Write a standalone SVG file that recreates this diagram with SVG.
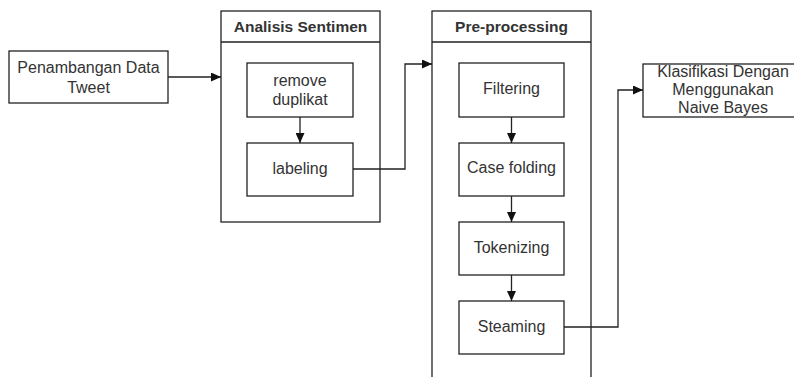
<svg xmlns="http://www.w3.org/2000/svg" width="794" height="377" viewBox="0 0 794 377">
<style>
.box{fill:#fff;stroke:#222;stroke-width:1.3}
.t{font-family:"Liberation Sans",Arial,sans-serif;font-size:16px;fill:#333;text-anchor:middle}
.b{font-weight:bold;font-size:15.5px}
.c{fill:none;stroke:#222;stroke-width:1.3}
</style>
<defs>
<marker id="ah" viewBox="0 0 10 10" refX="10" refY="5" markerWidth="10" markerHeight="9" markerUnits="userSpaceOnUse" orient="auto" preserveAspectRatio="none">
<path d="M0,0 L10,5 L0,10 Z" fill="#111"/>
</marker>
</defs>
<rect width="794" height="377" fill="#fff"/>
<g id="penambangan">
<rect class="box" x="9" y="51" width="159" height="52"/>
<text class="t" x="88.5" y="73">Penambangan Data</text>
<text class="t" x="88.5" y="93">Tweet</text>
</g>
<g id="analisis">
<rect class="box" x="221" y="11" width="159" height="211"/>
<line class="c" x1="221" y1="42" x2="380" y2="42"/>
<text class="t b" x="300.5" y="32">Analisis Sentimen</text>
</g>
<g id="remove">
<rect class="box" x="247" y="63" width="106" height="54"/>
<text class="t" x="300" y="86">remove</text>
<text class="t" x="300" y="105">duplikat</text>
</g>
<g id="labeling">
<rect class="box" x="247" y="143" width="106" height="53"/>
<text class="t" x="300" y="174">labeling</text>
</g>
<g id="preprocessing">
<rect class="box" x="432" y="11" width="159" height="400"/>
<line class="c" x1="432" y1="42" x2="591" y2="42"/>
<text class="t b" x="511.5" y="32">Pre-processing</text>
</g>
<g id="filtering">
<rect class="box" x="459" y="63" width="105" height="54"/>
<text class="t" x="511.5" y="94">Filtering</text>
</g>
<g id="casefolding">
<rect class="box" x="459" y="143" width="105" height="53"/>
<text class="t" x="511.5" y="173">Case folding</text>
</g>
<g id="tokenizing">
<rect class="box" x="459" y="222" width="105" height="53"/>
<text class="t" x="511.5" y="253">Tokenizing</text>
</g>
<g id="steaming">
<rect class="box" x="459" y="301" width="105" height="53"/>
<text class="t" x="511.5" y="332">Steaming</text>
</g>
<g id="klasifikasi">
<rect class="box" x="643" y="64" width="152" height="53"/>
<text class="t" x="723" y="77">Klasifikasi Dengan</text>
<text class="t" x="723" y="95">Menggunakan</text>
<text class="t" x="723" y="113">Naive Bayes</text>
</g>
<g id="connectors">
<path class="c" d="M168,77 H221" marker-end="url(#ah)"/>
<path class="c" d="M300,117 V143" marker-end="url(#ah)"/>
<path class="c" d="M353,169 H405 V64 H432" marker-end="url(#ah)"/>
<path class="c" d="M511.5,117 V143" marker-end="url(#ah)"/>
<path class="c" d="M511.5,196 V222" marker-end="url(#ah)"/>
<path class="c" d="M511.5,275 V301" marker-end="url(#ah)"/>
<path class="c" d="M564,327 H618 V90 H643" marker-end="url(#ah)"/>
</g>
</svg>
